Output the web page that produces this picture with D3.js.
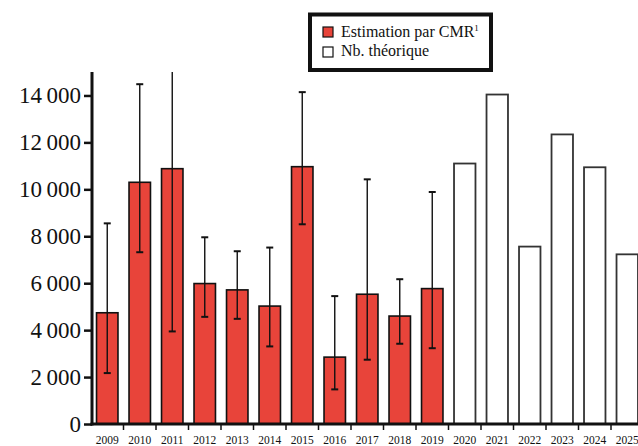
<!DOCTYPE html>
<html>
<head>
<meta charset="utf-8">
<script src="https://cdn.jsdelivr.net/npm/d3@7"></script>
<style>
html,body{margin:0;padding:0;background:#fff;}
svg{display:block;}
svg text{font-family:"Liberation Serif","Times New Roman",Times,"DejaVu Serif","Noto Serif",serif !important;fill:#111;}
</style>
</head>
<body>
<svg id="c" width="638" height="446"></svg>
<script>
const years = ["2009","2010","2011","2012","2013","2014","2015","2016","2017","2018","2019","2020","2021","2022","2023","2024","2025"];
const cmrYears = ["2009","2010","2011","2012","2013","2014","2015","2016","2017","2018","2019"];
const cmrValues = [4740, 10300, 10880, 5985, 5715, 5025, 10965, 2850, 5530, 4600, 5770];
const cmrLower  = [2170, 7320, 3945, 4566, 4481, 3306, 8511, 1475, 2740, 3420, 3230];
const cmrUpper  = [8550, 14480, 16000, 7957, 7362, 7519, 14142, 5450, 10426, 6170, 9886];
const theoYears = ["2020","2021","2022","2023","2024","2025"];
const theoValues = [11100, 14040, 7560, 12340, 10940, 7230];
const yTicks = [0, 2000, 4000, 6000, 8000, 10000, 12000, 14000];
const legendLabels = ["Estimation par CMR", "Nb. théorique"];

const svg = d3.select("#c");
const yMax = 15000;
const x = d3.scaleBand().domain(years).range([91, 643.5]).paddingInner(0.34).paddingOuter(0.17);
const y = d3.scaleLinear().domain([0, yMax]).range([424, 72]);
const fmt = v => v === 0 ? "0" : d3.format(",")(v).replace(/,/g, "\u2009");

// red bars
svg.append("g").selectAll("rect").data(cmrYears).join("rect")
  .attr("x", d => x(d)).attr("width", x.bandwidth())
  .attr("y", (d,i) => y(cmrValues[i])).attr("height", (d,i) => y(0) - y(cmrValues[i]))
  .attr("fill", "#E8443A").attr("stroke", "#111").attr("stroke-width", 1.6);

// white bars
svg.append("g").selectAll("rect").data(theoYears).join("rect")
  .attr("x", d => x(d)).attr("width", x.bandwidth())
  .attr("y", (d,i) => y(theoValues[i])).attr("height", (d,i) => y(0) - y(theoValues[i]))
  .attr("fill", "#fff").attr("stroke", "#333").attr("stroke-width", 1.8);

// error bars
const eg = svg.append("g").attr("stroke", "#111").attr("stroke-width", 1.4);
cmrYears.forEach((d, i) => {
  const cx = x(d) + x.bandwidth() / 2;
  const up = Math.min(cmrUpper[i], yMax);
  eg.append("line").attr("x1", cx).attr("x2", cx).attr("y1", y(cmrLower[i])).attr("y2", y(up));
  eg.append("line").attr("x1", cx - 3.5).attr("x2", cx + 3.5).attr("y1", y(cmrLower[i])).attr("y2", y(cmrLower[i])).attr("stroke-width", 2);
  if (cmrUpper[i] <= yMax) {
    eg.append("line").attr("x1", cx - 3.5).attr("x2", cx + 3.5).attr("y1", y(up)).attr("y2", y(up)).attr("stroke-width", 2);
  }
});

// y axis
const ya = svg.append("g").attr("transform", "translate(92,0)")
  .call(d3.axisLeft(y).tickValues(yTicks).tickFormat(fmt).tickSize(8).tickPadding(3));
ya.attr("font-family", null);
ya.select(".domain").attr("stroke", "#111").attr("stroke-width", 3).attr("d", `M0,${y(yMax)}V${y(0)+1.5}`);
ya.selectAll(".tick line").attr("stroke", "#111").attr("stroke-width", 2.5);
ya.selectAll(".tick text").style("font-size", "23px").attr("fill", "#111");

// x axis
const xa = svg.append("g").attr("transform", `translate(0,${y(0)})`)
  .call(d3.axisBottom(x).tickSize(0).tickPadding(12));
xa.attr("font-family", null);
xa.select(".domain").attr("stroke", "#111").attr("stroke-width", 3).attr("d", "M90.5,0H640");
xa.selectAll(".tick text").style("font-size", "11.5px").attr("fill", "#111");
// tick marks at band boundaries
xa.append("g").selectAll("line").data(years.slice(1)).join("line")
  .attr("x1", d => x(d) - x.step() * x.paddingInner() / 2).attr("x2", d => x(d) - x.step() * x.paddingInner() / 2)
  .attr("y1", 0).attr("y2", 6).attr("stroke", "#111").attr("stroke-width", 1.5);

// legend
const lg = svg.append("g");
lg.append("rect").attr("x", 310).attr("y", 14.5).attr("width", 181).attr("height", 55.5)
  .attr("fill", "#fff").attr("stroke", "#111").attr("stroke-width", 4);
const lfill = ["#E8443A", "#fff"];
legendLabels.forEach((t, i) => {
  lg.append("rect").attr("x", 323).attr("y", 27 + i * 20).attr("width", 10).attr("height", 10)
    .attr("fill", lfill[i]).attr("stroke", "#111").attr("stroke-width", 1.2);
  const tx = lg.append("text").attr("x", 341).attr("y", 37 + i * 19).style("font-size", "16px").text(t);
  if (i === 0) tx.append("tspan").attr("dy", -6).style("font-size", "9px").text("1");
});
</script>
</body>
</html>
